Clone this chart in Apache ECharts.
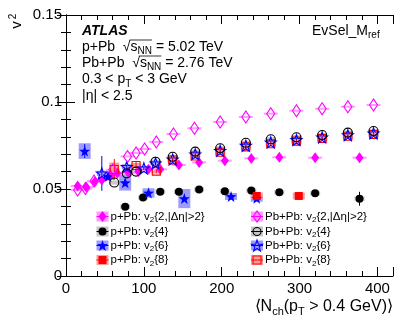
<!DOCTYPE html>
<html>
<head>
<meta charset="utf-8">
<script src="https://cdn.jsdelivr.net/npm/echarts@6/dist/echarts.min.js"></script>
<style>
  html, body { margin: 0; background: #fff; }
  #chart { width: 414px; height: 328px; }
</style>
</head>
<body>
<div id="chart"></div>
<script>
// ---- data ----
// p+Pb v2{2,|deta|>2}
const ppbX2 = [15, 26, 37, 46, 57, 66, 80, 93, 106, 121, 145, 171, 204, 238, 274, 320, 377]
const ppbV22 = [0.0517, 0.0512, 0.0542, 0.0552, 0.058, 0.059, 0.0595, 0.060, 0.0613, 0.0613, 0.0638, 0.0653, 0.0663, 0.0676, 0.0682, 0.068, 0.068]
// p+Pb v2{4}
const ppbX4 = [76, 99, 121, 145, 171, 204, 238, 274, 320, 377]
const ppbV24 = [0.0398, 0.0451, 0.0484, 0.0484, 0.0497, 0.0487, 0.0491, 0.0481, 0.0475, 0.0444]
const ppbV24Err = [0.001, 0.001, 0.001, 0.001, 0.001, 0.001, 0.001, 0.001, 0.001, 0.004]
// p+Pb v2{6}
const ppbX6 = [24, 54, 76, 106, 152, 212, 245]
const ppbV26 = [0.0718, 0.0572, 0.0536, 0.0477, 0.0445, 0.0457, 0.0447]
const ppbV26Sys = [0.0045, 0.002, 0.0045, 0.0027, 0.0055, 0.002, 0.002]
const ppbV26Err = [0.004, 0.002, 0.002, 0.001, 0.001, 0.001, 0.001]
// p+Pb v2{8}
const ppbX8 = [245, 299]
const ppbV28 = [0.046, 0.046]
const ppbV28Sys = [0.002, 0.002]
const ppbV28Err = [0.001, 0.002]
// Pb+Pb v2{2,|deta|>2}
const pbpbX2 = [15, 25, 36, 60, 79, 90, 101, 116, 138, 165, 198, 231, 263, 296, 329, 362, 395]
const pbpbV22 = [0.0494, 0.0503, 0.0546, 0.061, 0.0687, 0.0707, 0.073, 0.077, 0.0816, 0.0849, 0.0885, 0.0914, 0.0933, 0.095, 0.0961, 0.0973, 0.0983]
// Pb+Pb v2{4}
const pbpbX4 = [62, 78, 90, 115, 137, 166, 198, 231, 263, 296, 329, 362, 395]
const pbpbV24 = [0.0537, 0.059, 0.060, 0.0657, 0.0685, 0.0715, 0.0734, 0.0766, 0.0786, 0.0797, 0.081, 0.0824, 0.0833]
// Pb+Pb v2{6}
const pbpbX6 = [46, 78, 100, 115, 137, 166, 198, 231, 263, 296, 329, 362, 395]
const pbpbV26 = [0.059, 0.0628, 0.0619, 0.0648, 0.067, 0.070, 0.072, 0.0749, 0.0768, 0.0782, 0.0797, 0.081, 0.082]
const pbpbV26Err = [0.01, 0.001, 0.001, 0.001, 0.001, 0.001, 0.001, 0.001, 0.001, 0.001, 0.001, 0.001, 0.001]
// Pb+Pb v2{8}
const pbpbX8 = [62, 90, 116, 137, 166, 198, 231, 263, 296, 329, 362, 395]
const pbpbV28 = [0.0612, 0.0635, 0.0603, 0.0667, 0.069, 0.0711, 0.0742, 0.076, 0.0775, 0.079, 0.0803, 0.0813]
const pbpbV28Err = [0.006, 0.002, 0.001, 0.001, 0.001, 0.001, 0.001, 0.001, 0.001, 0.001, 0.001, 0.001]

const xTicks = [0, 100, 200, 300, 400]
const yTicks = [0, 0.05, 0.1, 0.15]

const FONT = '"Liberation Sans", Arial, Helvetica, sans-serif'
const MAG = '#ff00ff', BLU = '#0000ff', RED = '#ff0000', BLK = '#000000'
const MAG_L = '#ff9cff', BLU_L = '#9c9cff', RED_L = '#ff9c9c', GRY_L = '#c8c8c8'

// 5-point star symbol path
const starPath = (() => {
  let d = ''
  for (let i = 0; i < 10; i++) {
    const a = -Math.PI / 2 + i * Math.PI / 5
    const r = i % 2 ? 0.4 : 1
    d += (i ? 'L' : 'M') + (r * Math.cos(a)).toFixed(3) + ',' + (r * Math.sin(a)).toFixed(3)
  }
  return 'path://' + d + 'Z'
})()

const zip = (xs, ys) => xs.map((x, i) => [x, ys[i]])

// shaded systematic boxes (fixed pixel width, height from data)
const boxes = (xs, ys, hs, color, halfW) => ({
  type: 'custom', silent: true, z: 1,
  data: xs.map((x, i) => [x, ys[i], hs[i]]),
  renderItem (params, api) {
    const top = api.coord([api.value(0), api.value(1) + api.value(2)])
    const bot = api.coord([api.value(0), api.value(1) - api.value(2)])
    return { type: 'rect', shape: { x: top[0] - halfW, y: top[1], width: halfW * 2, height: bot[1] - top[1] }, style: { fill: color } }
  }
})
// vertical stat. error bars
const errs = (xs, ys, es, color) => ({
  type: 'custom', silent: true, z: 2,
  data: xs.map((x, i) => [x, ys[i], es[i]]),
  renderItem (params, api) {
    const top = api.coord([api.value(0), api.value(1) + api.value(2)])
    const bot = api.coord([api.value(0), api.value(1) - api.value(2)])
    return { type: 'line', shape: { x1: top[0], y1: top[1], x2: bot[0], y2: bot[1] }, style: { stroke: color, lineWidth: 1 } }
  }
})
const pts = (xs, ys, symbol, size, fill, stroke) => ({
  type: 'scatter', silent: true, z: 3,
  data: zip(xs, ys), symbol, symbolSize: size,
  itemStyle: { color: fill, borderColor: stroke, borderWidth: fill === 'transparent' ? 1.1 : 0, opacity: 1 }
})

// ---- text helpers (measured so sub-scripts follow the text) ----
const ctx = document.createElement('canvas').getContext('2d')
const tw = (t, size, extra) => { ctx.font = (extra || '') + ' ' + size + 'px ' + FONT; return ctx.measureText(t).width }
// parts: [text, 'n'|'s'|'b'] ; returns graphic elements
function line (x, y, size, parts) {
  const out = []
  let cx = x
  const subSize = Math.round(size * 0.7)
  parts.forEach(([t, k]) => {
    const s = k === 's' ? subSize : size
    const extra = k === 'b' ? 'italic bold' : ''
    const dy = k === 's' ? size * 0.33 : 0
    out.push({
      type: 'text', x: cx, y: y + dy, silent: true,
      style: { text: t, fontSize: s, fontFamily: FONT, fontWeight: k === 'b' ? 'bold' : 'normal', fontStyle: k === 'b' ? 'italic' : 'normal', fill: '#000', textAlign: 'left', textVerticalAlign: 'middle' }
    })
    cx += tw(t, s, extra)
  })
  out.width = cx - x
  return out
}
function sqrtLine (x, y, size, pre, post) {
  const a = line(x, y, size, [[pre, 'n'], ['√', 'n'], ['s', 'n'], ['NN', 's'], [post, 'n']])
  const x0 = x + tw(pre + '√', size) - 1
  const x1 = x0 + 1 + tw('s', size) + tw('NN', Math.round(size * 0.7))
  a.push({ type: 'line', silent: true, shape: { x1: x0, y1: y - size * 0.5, x2: x1, y2: y - size * 0.5 }, style: { stroke: '#000', lineWidth: 0.8 } })
  return a
}

const graphics = []
graphics.push(...line(82, 31, 14, [['ATLAS', 'b']]))
graphics.push(...sqrtLine(82, 47, 14, 'p+Pb  ', ' = 5.02 TeV'))
graphics.push(...sqrtLine(82, 63, 14, 'Pb+Pb  ', ' = 2.76 TeV'))
graphics.push(...line(82, 79.5, 14, [['0.3 < p', 'n'], ['T', 's'], [' < 3 GeV', 'n']]))
graphics.push(...line(82, 96.5, 14, [['|η| < 2.5', 'n']]))
graphics.push(...line(312, 31, 14, [['EvSel_M', 'n'], ['ref', 's']]))

// x title (right aligned at frame edge)
const xt = [['⟨N', 'n'], ['ch', 's'], ['(p', 'n'], ['T', 's'], [' > 0.4 GeV)⟩', 'n']]
const xtw = line(0, 0, 16, xt).width
graphics.push(...line(393 - xtw, 307, 16, xt))
// y title, rotated
graphics.push({ type: 'text', x: 17, y: 25, rotation: Math.PI / 2, silent: true, style: { text: 'v', fontSize: 15, fontFamily: FONT, fill: '#000', textAlign: 'center', textVerticalAlign: 'middle' } })
graphics.push({ type: 'text', x: 13, y: 16.5, rotation: Math.PI / 2, silent: true, style: { text: '2', fontSize: 10, fontFamily: FONT, fill: '#000', textAlign: 'center', textVerticalAlign: 'middle' } })

// legend
const legendRows = [216.5, 231.5, 245.5, 260]
const legL = [
  { box: MAG_L, sym: 'diamond', size: [8, 11], fill: MAG, stroke: MAG, label: ['p+Pb: v', '{2,|Δη|>2}'] },
  { box: GRY_L, sym: 'circle', size: 8, fill: BLK, stroke: BLK, label: ['p+Pb: v', '{4}'] },
  { box: BLU_L, sym: starPath, size: 11, fill: BLU, stroke: BLU, label: ['p+Pb: v', '{6}'] },
  { box: RED_L, sym: 'rect', size: 8, fill: RED, stroke: RED, label: ['p+Pb: v', '{8}'] }
]
const legR = [
  { box: MAG_L, sym: 'diamond', size: [8, 11], fill: 'none', stroke: MAG, label: ['Pb+Pb: v', '{2,|Δη|>2}'] },
  { box: GRY_L, sym: 'circle', size: 8, fill: 'none', stroke: BLK, label: ['Pb+Pb: v', '{4}'] },
  { box: BLU_L, sym: starPath, size: 11, fill: 'none', stroke: BLU, label: ['Pb+Pb: v', '{6}'] },
  { box: RED_L, sym: 'rect', size: 8, fill: 'none', stroke: RED, label: ['Pb+Pb: v', '{8}'] }
]
function legendCol (cx, entries) {
  entries.forEach((e, i) => {
    const y = legendRows[i]
    graphics.push({ type: 'rect', silent: true, shape: { x: cx - 6, y: y - 5, width: 12, height: 10 }, style: { fill: e.box } })
    graphics.push({ type: 'line', silent: true, shape: { x1: cx - 6, y1: y, x2: cx + 6, y2: y }, style: { stroke: e.stroke, lineWidth: 1 } })
    graphics.push(...line(cx + 8, y, 11.5, [[e.label[0], 'n'], ['2', 's'], [e.label[1], 'n']]))
  })
}
legendCol(102.5, legL)
legendCol(257, legR)

// legend markers drawn as tiny scatter series on a hidden pixel grid
const legSymX = [102.5, 102.5, 102.5, 102.5, 257, 257, 257, 257]

const chart = echarts.init(document.getElementById('chart'), null, { renderer: 'canvas' })

const axisCommon = {
  axisLine: { show: true, lineStyle: { color: '#000', width: 1 } },
  splitLine: { show: false },
  axisTick: { show: true, inside: true, length: 9, lineStyle: { color: '#000' } },
  minorTick: { show: false },
  minorSplitLine: { show: false }
}
const labelStyle = { color: '#000', fontSize: 15, fontFamily: FONT }

chart.setOption({
  animation: false,
  backgroundColor: '#fff',
  grid: [
    { left: 66, right: 21, top: 15, bottom: 52 },
    { left: 0, right: 0, top: 0, bottom: 0 }
  ],
  xAxis: [
    Object.assign({}, axisCommon, { type: 'value', gridIndex: 0, position: 'bottom', min: 0, max: 420, interval: 100,
      axisLabel: Object.assign({ margin: 5, formatter: v => (xTicks.includes(v) ? String(v) : '') }, labelStyle) }),
    Object.assign({}, axisCommon, { type: 'value', gridIndex: 0, position: 'bottom', min: 0, max: 420, interval: 20,
      axisLine: { show: false }, axisLabel: { show: false }, axisTick: { inside: true, length: 5, lineStyle: { color: '#000' } } }),
    Object.assign({}, axisCommon, { type: 'value', gridIndex: 0, position: 'top', min: 0, max: 420, interval: 100, axisLabel: { show: false } }),
    Object.assign({}, axisCommon, { type: 'value', gridIndex: 0, position: 'top', min: 0, max: 420, interval: 20,
      axisLine: { show: false }, axisLabel: { show: false }, axisTick: { inside: true, length: 5, lineStyle: { color: '#000' } } }),
    { type: 'value', gridIndex: 1, min: 0, max: 414, show: false }
  ],
  yAxis: [
    Object.assign({}, axisCommon, { type: 'value', gridIndex: 0, position: 'left', min: 0, max: 0.15, interval: 0.05,
      minorTick: { show: true, splitNumber: 5, length: 5, lineStyle: { color: '#000' } },
      axisLabel: Object.assign({ margin: 4, formatter: v => (yTicks.some(t => Math.abs(t - v) < 1e-9) ? String(+v.toFixed(2)) : '') }, labelStyle) }),
    Object.assign({}, axisCommon, { type: 'value', gridIndex: 0, position: 'right', min: 0, max: 0.15, interval: 0.05,
      minorTick: { show: true, splitNumber: 5, length: 5, lineStyle: { color: '#000' } }, axisLabel: { show: false } }),
    { type: 'value', gridIndex: 1, min: 0, max: 328, inverse: true, show: false }
  ],
  series: [
    // Pb+Pb syst boxes
    boxes(pbpbX2, pbpbV22, pbpbX2.map(() => 0.0006), MAG_L, 7),
    boxes(pbpbX4, pbpbV24, pbpbX4.map(() => 0.0012), GRY_L, 5),
    boxes(pbpbX6, pbpbV26, pbpbX6.map(() => 0.0015), BLU_L, 5),
    boxes(pbpbX8, pbpbV28, pbpbX8.map((x, i) => (i === 0 ? 0.004 : 0.0015)), RED_L, 5),
    // p+Pb syst boxes
    boxes(ppbX2, ppbV22, ppbX2.map(() => 0.0006), MAG_L, 7),
    boxes(ppbX4, ppbV24, ppbX4.map(() => 0.0012), GRY_L, 5),
    boxes(ppbX6, ppbV26, ppbV26Sys, BLU_L, 6),
    boxes(ppbX8, ppbV28, ppbV28Sys, RED_L, 6),
    // stat errors
    errs(ppbX4, ppbV24, ppbV24Err, BLK),
    errs(ppbX6, ppbV26, ppbV26Err, BLU),
    errs(ppbX8, ppbV28, ppbV28Err, RED),
    errs(pbpbX6, pbpbV26, pbpbV26Err, BLU),
    errs(pbpbX8, pbpbV28, pbpbV28Err, RED),
    // markers
    pts(ppbX2, ppbV22, 'diamond', [8, 11], MAG, MAG),
    pts(ppbX4, ppbV24, 'circle', 8, BLK, BLK),
    pts(ppbX6, ppbV26, starPath, 11, BLU, BLU),
    pts(ppbX8, ppbV28, 'rect', 8, RED, RED),
    pts(pbpbX8, pbpbV28, 'rect', 8, 'transparent', RED),
    pts(pbpbX6, pbpbV26, starPath, 11, 'transparent', BLU),
    pts(pbpbX4, pbpbV24, 'circle', 9, 'transparent', BLK),
    pts(pbpbX2, pbpbV22, 'diamond', [8, 12], 'transparent', MAG),
    // legend markers in pixel space
    ...legL.concat(legR).map((e, i) => ({
      type: 'scatter', silent: true, z: 5, xAxisIndex: 4, yAxisIndex: 2,
      data: [[legSymX[i], legendRows[i % 4]]], symbol: e.sym, symbolSize: e.size,
      itemStyle: { color: e.fill === 'none' ? 'transparent' : e.fill, borderColor: e.stroke, borderWidth: e.fill === 'none' ? 1.1 : 0, opacity: 1 }
    }))
  ].map(s => (s.xAxisIndex === undefined ? Object.assign(s, { xAxisIndex: 0, yAxisIndex: 0 }) : s)),
  graphic: graphics
})
window.addEventListener('resize', () => chart.resize())
</script>
</body>
</html>
